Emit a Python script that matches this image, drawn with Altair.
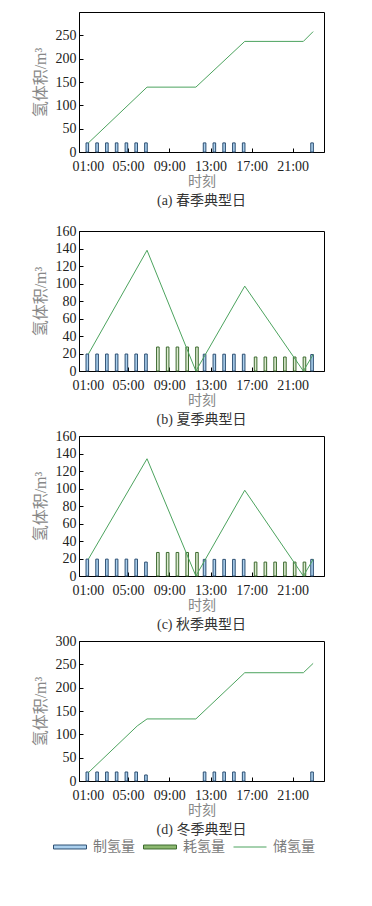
import altair as alt
import pandas as pd

FONT = "Liberation Serif, Noto Sans CJK SC"

hours = list(range(1, 25))
series_names = ["制氢量", "耗氢量", "储氢量"]
captions = ["(a) 春季典型日", "(b) 夏季典型日", "(c) 秋季典型日", "(d) 冬季典型日"]
tick_pos = [0.95, 5.05, 9.27, 13.5, 17.7, 21.9]
tick_labels = ["01:00", "05:00", "09:00", "13:00", "17:00", "21:00"]

# hydrogen production (制氢量) and consumption (耗氢量) per hour
spring_prod = [19.5, 19.5, 19.5, 19.5, 19.5, 19.5, 19.5, 0, 0, 0, 0, 0, 19.5, 19.5, 19.5, 19.5, 19.5, 0, 0, 0, 0, 0, 0, 19.5]
spring_cons = [0, 0, 0, 0, 0, 0, 0, 0, 0, 0, 0, 0, 0, 0, 0, 0, 0, 0, 0, 0, 0, 0, 0, 0]
summer_prod = [19.4, 19.4, 19.4, 19.4, 19.4, 19.4, 19.4, 0, 0, 0, 0, 0, 19.2, 19.2, 19.2, 19.2, 19.2, 0, 0, 0, 0, 0, 0, 18.8]
summer_cons = [0, 0, 0, 0, 0, 0, 0, 27.4, 27.4, 27.4, 27.4, 27.4, 0, 0, 0, 0, 0, 16.0, 16.0, 16.0, 16.0, 16.0, 16.0, 0]
autumn_prod = [19.3, 19.3, 19.3, 19.3, 19.3, 19.3, 15.9, 0, 0, 0, 0, 0, 19.0, 19.0, 19.0, 19.0, 19.0, 0, 0, 0, 0, 0, 0, 19.0]
autumn_cons = [0, 0, 0, 0, 0, 0, 0, 26.9, 26.9, 26.9, 26.9, 26.9, 0, 0, 0, 0, 0, 15.9, 15.9, 15.9, 15.9, 15.9, 15.9, 0]
winter_prod = [19.3, 19.3, 19.3, 19.3, 19.3, 19.3, 12.9, 0, 0, 0, 0, 0, 19.3, 19.3, 19.3, 19.3, 19.3, 0, 0, 0, 0, 0, 0, 19.3]
winter_cons = [0, 0, 0, 0, 0, 0, 0, 0, 0, 0, 0, 0, 0, 0, 0, 0, 0, 0, 0, 0, 0, 0, 0, 0]

# hydrogen storage (储氢量) line vertices
spring_store_h = [1, 7, 12, 17, 23, 24]
spring_store = [19.5, 139, 139, 237, 237, 258]
summer_store_h = [1, 7, 12, 17, 23, 24]
summer_store = [19.4, 138, 0, 97, 0, 18.8]
autumn_store_h = [1, 7, 12, 17, 23, 24]
autumn_store = [19.3, 134, 0, 98, 0, 19.0]
winter_store_h = [1, 6, 7, 12, 17, 23, 24]
winter_store = [18, 118, 133, 133, 232, 232, 252]

y_max = [300, 160, 160, 300]
y_ticks = [[0, 50, 100, 150, 200, 250], [0, 20, 40, 60, 80, 100, 120, 140, 160],
           [0, 20, 40, 60, 80, 100, 120, 140, 160], [0, 50, 100, 150, 200, 250, 300]]

W, H = 245, 140
BLUE_FILL = "#abd0ee"
BLUE_STROKE = "#2d4f72"
GREEN_FILL = "#dcebd0"
GREEN_STROKE = "#3d6a2f"
LINE_GREEN = "#4ca35e"
LEGEND_GREEN = "#8cb870"
RECT = "M-1,-0.12H1V0.12H-1Z"
HLINE = "M-1,0H1"

label_expr = ""
for p, l in zip(tick_pos[:-1], tick_labels[:-1]):
    label_expr += f"datum.value < {p + 1.5} ? '{l}' : "
label_expr += f"'{tick_labels[-1]}'"

stroke_scale = alt.Scale(domain=series_names, range=[BLUE_STROKE, GREEN_STROKE, LINE_GREEN])
fill_scale = alt.Scale(domain=series_names, range=[BLUE_FILL, LEGEND_GREEN, "transparent"])
shape_scale = alt.Scale(domain=series_names, range=[RECT, RECT, HLINE])
legend = alt.Legend(
    title=None, orient="none", legendX=-26, legendY=818, direction="horizontal",
    symbolSize=1089, symbolStrokeWidth=1, symbolFillColor="transparent",
    labelFont=FONT, labelFontSize=14, labelColor="#7a7a7a", labelOffset=6,
    columnPadding=6,
)


def panel(i, prod, cons, sh, sv):
    bars = pd.DataFrame({"hour": hours, "制氢量": prod, "耗氢量": cons})
    long = bars.melt("hour", var_name="series", value_name="v")
    line = pd.DataFrame({"hour": sh, "v": sv, "series": ["储氢量"] * len(sh)})
    xaxis = alt.Axis(values=tick_pos, labelExpr=label_expr, title="时刻", ticks=False,
                     orient="bottom", labelPadding=7, titlePadding=1)
    yaxis = alt.Axis(values=y_ticks[i], title="氢体积/m³", ticks=False, orient="left",
                     labelPadding=3, titlePadding=7, titleFontSize=16)
    xtick = alt.Axis(values=tick_pos, orient="top", offset=-H, labels=False, domain=False,
                     ticks=True, tickSize=4, title=None)
    ytick = alt.Axis(values=y_ticks[i], orient="right", offset=-W, labels=False, domain=False,
                     ticks=True, tickSize=4, title=None)
    xs = alt.Scale(domain=[0.55, 24.6], nice=False, zero=False)
    ys = alt.Scale(domain=[0, y_max[i]], nice=False)
    stroke = alt.Stroke("series:N", scale=stroke_scale, legend=legend)

    dummy = alt.Chart(long).transform_filter("false").mark_point(opacity=1, filled=False).encode(
        x=alt.X("hour:Q", scale=xs, axis=xtick),
        y=alt.Y("v:Q", scale=ys, axis=ytick),
        stroke=stroke,
        fill=alt.Fill("series:N", scale=fill_scale, legend=legend),
        shape=alt.Shape("series:N", scale=shape_scale, legend=legend),
    )
    blue = alt.Chart(long).transform_filter(
        "datum.series === '制氢量' && datum.v > 0"
    ).transform_calculate(pos="datum.hour - 0.11").mark_bar(
        size=2.6, fill=BLUE_FILL, strokeWidth=1
    ).encode(x=alt.X("pos:Q", scale=xs, axis=xaxis), y=alt.Y("v:Q", scale=ys, axis=yaxis), stroke=stroke)
    green = alt.Chart(long).transform_filter(
        "datum.series === '耗氢量' && datum.v > 0"
    ).transform_calculate(pos="datum.hour + 0.11").mark_bar(
        size=2.6, fill=GREEN_FILL, strokeWidth=1
    ).encode(x=alt.X("pos:Q", scale=xs, axis=None), y=alt.Y("v:Q", scale=ys, axis=None), stroke=stroke)
    ln = alt.Chart(line).mark_line(strokeWidth=1).encode(
        x=alt.X("hour:Q", scale=xs, axis=None), y=alt.Y("v:Q", scale=ys, axis=None), stroke=stroke)
    return alt.layer(dummy, blue, green, ln).properties(
        width=W, height=H,
        title=alt.TitleParams(captions[i], orient="bottom", offset=6),
    )


pa = panel(0, spring_prod, spring_cons, spring_store_h, spring_store)
pb = panel(1, summer_prod, summer_cons, summer_store_h, summer_store)
pc = panel(2, autumn_prod, autumn_cons, autumn_store_h, autumn_store)
pd_ = panel(3, winter_prod, winter_cons, winter_store_h, winter_store)

inner = alt.vconcat(pb, pc, pd_, spacing=0)
chart = alt.vconcat(pa, inner, spacing=14).properties(
    padding={"left": 23, "top": 3, "right": 5, "bottom": 5}
).configure_view(stroke="black", strokeWidth=1).configure_axis(
    grid=False, domainColor="black", tickColor="black", domainWidth=1, tickWidth=1,
    labelFont=FONT, labelFontSize=14, labelColor="#222",
    titleFont=FONT, titleFontSize=14, titleColor="#888", titleFontWeight="normal",
).configure_title(
    font=FONT, fontSize=14, color="#333", fontWeight="normal", anchor="middle"
)

chart.save("out.html", embed_options={"renderer": "svg", "actions": False})
